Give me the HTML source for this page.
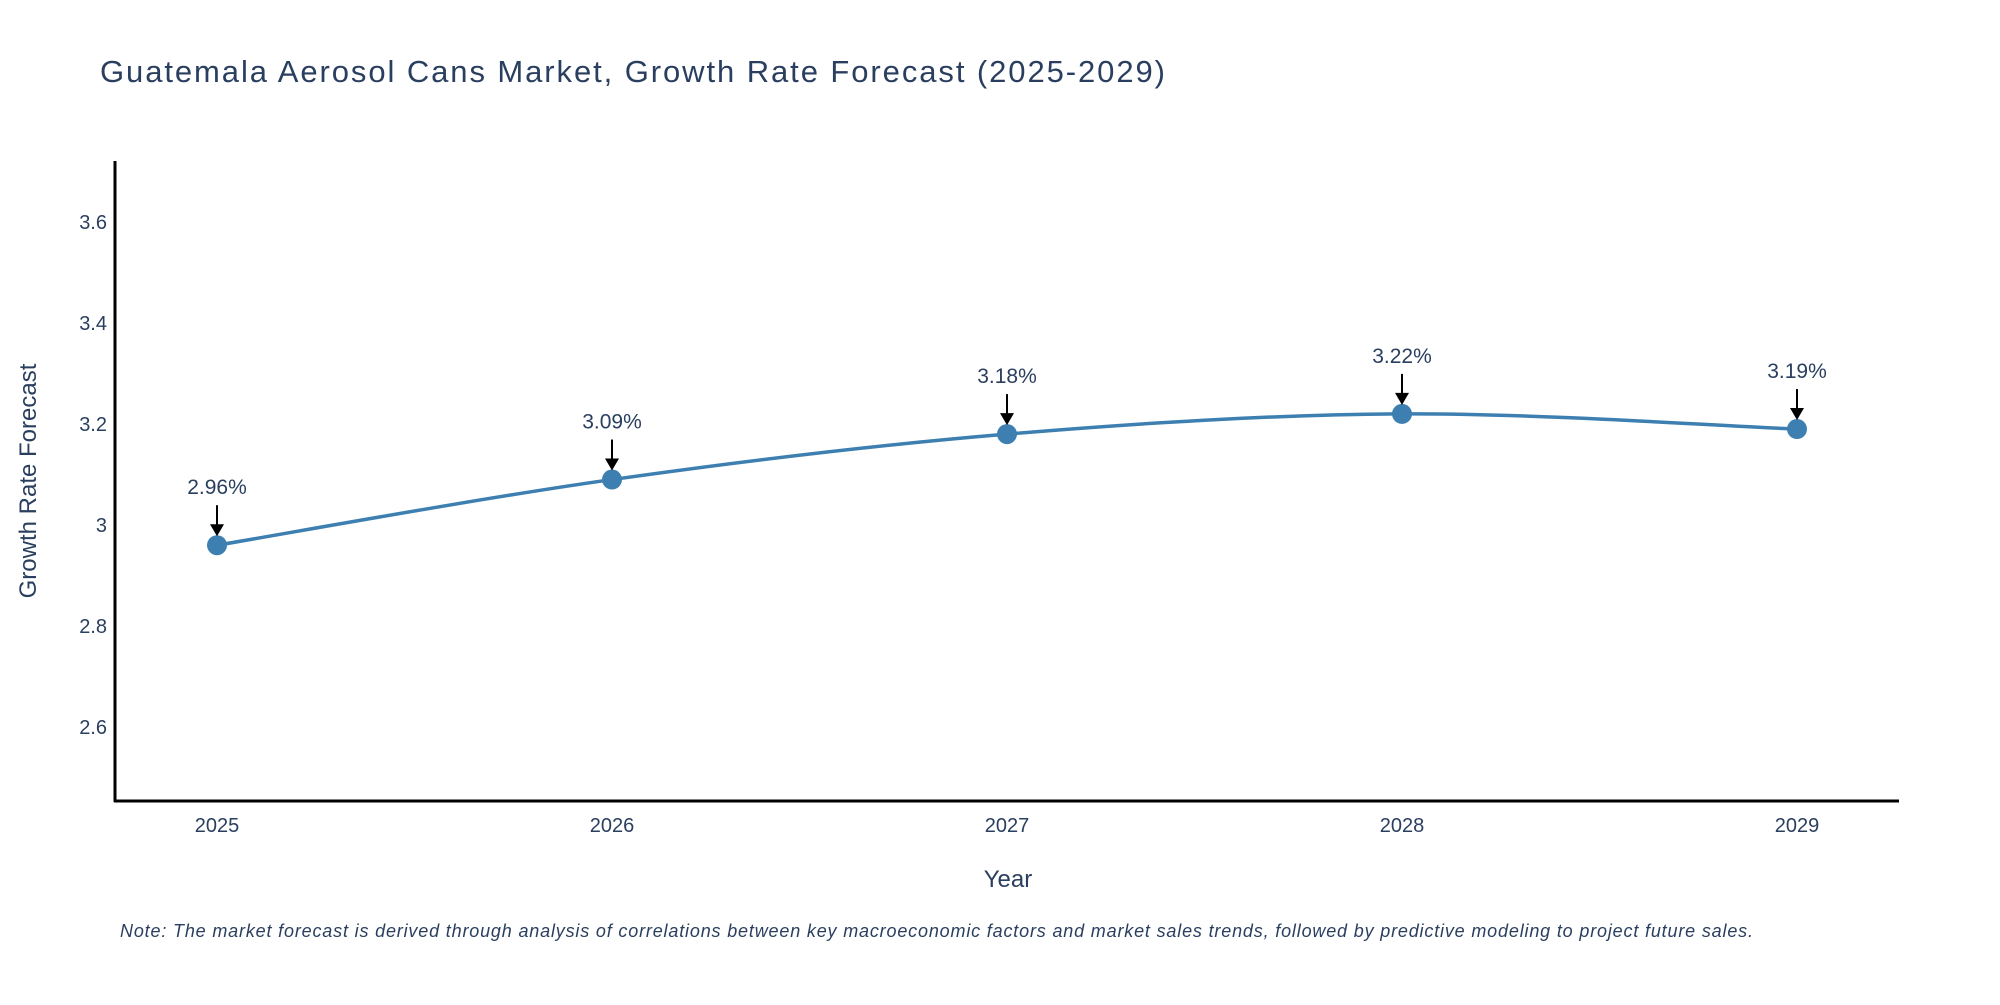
<!DOCTYPE html>
<html><head><meta charset="utf-8"><style>
body{margin:0;background:#fff}
svg text{font-family:"Liberation Sans",sans-serif}
</style></head><body>
<svg id="c" width="2000" height="1000" xmlns="http://www.w3.org/2000/svg">
<text x="100" y="82" font-size="31" fill="#2a3f5f" textLength="1065">Guatemala Aerosol Cans Market, Growth Rate Forecast (2025-2029)</text>
<g id="yt"></g><g id="xt"></g>
<line x1="115" y1="161" x2="115" y2="802" stroke="#000" stroke-width="3"/>
<line x1="114" y1="801" x2="1899" y2="801" stroke="#000" stroke-width="3"/>
<text x="1008" y="887" font-size="24" fill="#2a3f5f" text-anchor="middle">Year</text>
<text x="0" y="0" font-size="24" fill="#2a3f5f" text-anchor="middle" transform="translate(36,481) rotate(-90)">Growth Rate Forecast</text>
<g id="plot"></g>
<text x="120" y="937" font-size="18" font-style="italic" fill="#2a3f5f" textLength="1633">Note: The market forecast is derived through analysis of correlations between key macroeconomic factors and market sales trends, followed by predictive modeling to project future sales.</text>
</svg>
<script>
const years=[2025,2026,2027,2028,2029];
const values=[2.96,3.09,3.18,3.22,3.19];
const labels=["2.96%","3.09%","3.18%","3.22%","3.19%"];
const yTicks=[2.6,2.8,3,3.2,3.4,3.6];
const yTickLabels=["2.6","2.8","3","3.2","3.4","3.6"];
const NS="http://www.w3.org/2000/svg";
const X=i=>217+(1797-217)*(years[i]-years[0])/(years[years.length-1]-years[0]);
const Y=v=>727-(v-2.6)*505;
function mk(t,a,p){const e=document.createElementNS(NS,t);for(const k in a)e.setAttribute(k,a[k]);p.appendChild(e);return e;}
const yt=document.getElementById('yt'),xt=document.getElementById('xt'),plot=document.getElementById('plot');
yTicks.forEach((v,i)=>{const t=mk('text',{x:107,y:Y(v)+7,'font-size':20,fill:'#2a3f5f','text-anchor':'end'},yt);t.textContent=yTickLabels[i];

});
years.forEach((y,i)=>{const t=mk('text',{x:X(i),y:832,'font-size':20,fill:'#2a3f5f','text-anchor':'middle'},xt);t.textContent=String(y);

});
const pts=values.map((v,i)=>[X(i),Y(v)]);
let d=`M${pts[0][0]},${pts[0][1]}`;
for(let i=0;i<pts.length-1;i++){const p0=pts[Math.max(0,i-1)],p1=pts[i],p2=pts[i+1],p3=pts[Math.min(pts.length-1,i+2)];
const c1=[p1[0]+(p2[0]-p0[0])/6,p1[1]+(p2[1]-p0[1])/6],c2=[p2[0]-(p3[0]-p1[0])/6,p2[1]-(p3[1]-p1[1])/6];
d+=` C${c1[0]},${c1[1]} ${c2[0]},${c2[1]} ${p2[0]},${p2[1]}`;}
const line=mk('path',{d:d,fill:'none',stroke:'#3d7fb0','stroke-width':3.5},plot);


pts.forEach((p,i)=>{
const c=mk('circle',{cx:p[0],cy:p[1],r:10,fill:'#3d7fb0'},plot);


const a=mk('line',{x1:p[0],y1:p[1]-40,x2:p[0],y2:p[1]-20,stroke:'#000','stroke-width':2},plot);


const h=mk('path',{d:`M${p[0]-7},${p[1]-21} L${p[0]+7},${p[1]-21} L${p[0]},${p[1]-9} Z`,fill:'#000'},plot);


const t=mk('text',{x:p[0],y:p[1]-51,'font-size':21,fill:'#2a3f5f','text-anchor':'middle'},plot);t.textContent=labels[i];


});
</script>
</body></html>
